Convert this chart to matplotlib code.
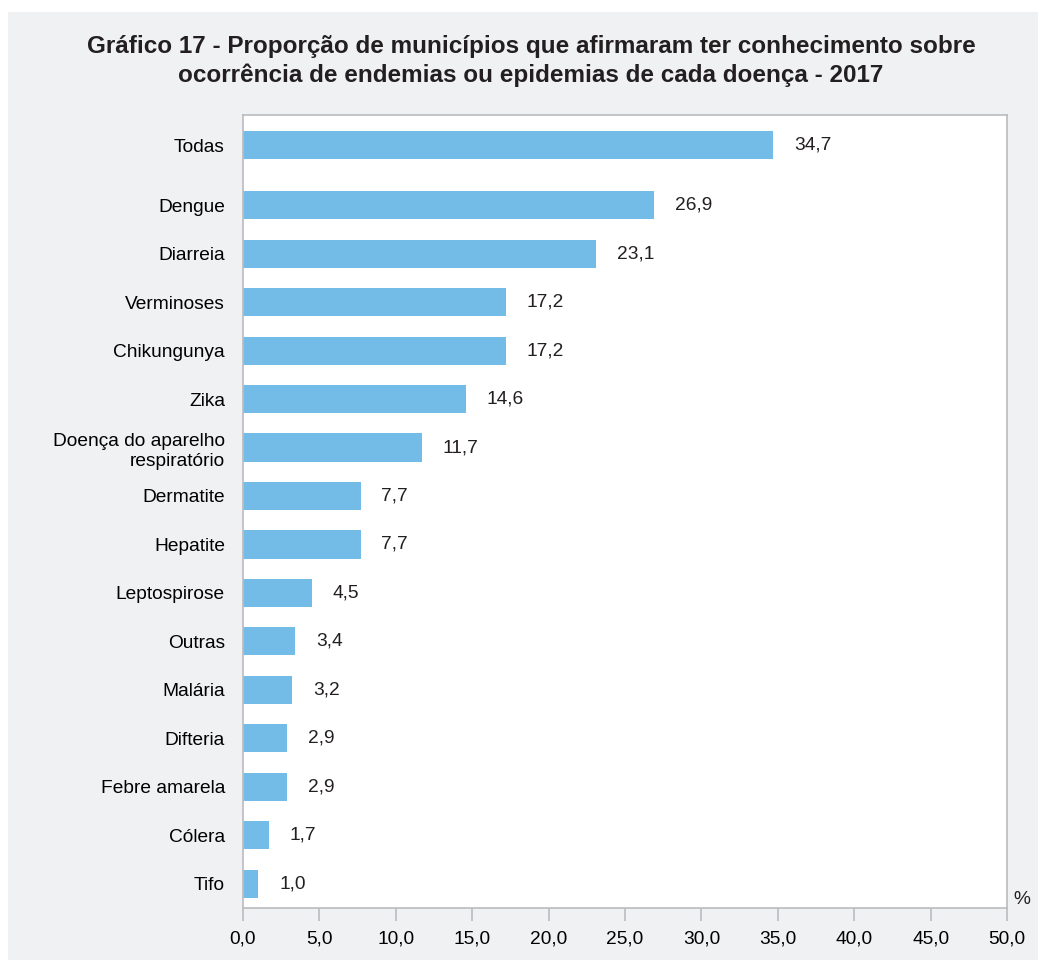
import matplotlib.pyplot as plt
import matplotlib as mplt
from matplotlib.patches import Rectangle

# data
categorias = ['Todas', 'Dengue', 'Diarreia', 'Verminoses', 'Chikungunya', 'Zika',
              'Doença do aparelho\nrespiratório', 'Dermatite', 'Hepatite',
              'Leptospirose', 'Outras', 'Malária', 'Difteria', 'Febre amarela',
              'Cólera', 'Tifo']
valores = [34.7, 26.9, 23.1, 17.2, 17.2, 14.6, 11.7, 7.7, 7.7, 4.5, 3.4, 3.2,
           2.9, 2.9, 1.7, 1.0]
xticks = [0, 5, 10, 15, 20, 25, 30, 35, 40, 45, 50]

titulo = ('Gráfico 17 - Proporção de municípios que afirmaram ter conhecimento sobre\n'
          'ocorrência de endemias ou epidemias de cada doença - 2017')

mplt.rcParams['font.family'] = ['Liberation Sans', 'DejaVu Sans']
mplt.rcParams['text.color'] = '#231f20'

azul = '#74bce8'
cinza_fundo = '#f0f1f3'
cinza_linha = '#b9bcc0'
fs = 13.8

fig = plt.figure(figsize=(10.38, 9.6), dpi=100, facecolor='white')
# gray panel behind everything
fig.patches.append(Rectangle((8 / 1038, 0), 1, 1 - 12 / 960, transform=fig.transFigure,
                             facecolor=cinza_fundo, edgecolor='none', zorder=-10))

ax = fig.add_axes([243 / 1038, 1 - 908 / 960, (1007 - 243) / 1038, (908 - 115) / 960])
ax.set_facecolor('white')

# positions: Todas is set apart from the rest
n = len(categorias)
ypos = [n - 1 - i for i in range(n)]
ypos[0] = (n - 2) + 1.24

ax.barh(ypos, valores, height=0.58, color=azul, edgecolor='none')

for y, v in zip(ypos, valores):
    ax.annotate(f'{v:.1f}'.replace('.', ','), (v, y), xytext=(15, 0),
                textcoords='offset points', va='center', ha='left', fontsize=fs)

ax.set_xlim(0, 50)
ax.set_ylim(-0.5, ypos[0] + 0.62)
ax.set_xticks(xticks)
ax.set_xticklabels([f'{t:.1f}'.replace('.', ',') for t in xticks], fontsize=fs)
ax.set_yticks(ypos)
ax.set_yticklabels(categorias, fontsize=fs, linespacing=1.3)
ax.tick_params(axis='y', length=0, pad=13)
ax.tick_params(axis='x', length=9, width=1.2, color=cinza_linha, pad=7, direction='out')

for s in ax.spines.values():
    s.set_color(cinza_linha)
    s.set_linewidth(1.2)

ax.text(1.008, 0.0, '%', transform=ax.transAxes, ha='left', va='bottom', fontsize=fs)

fig.text(531 / 1038, 1 - 61 / 960, titulo, ha='center', va='center', fontsize=17.5,
         fontweight='bold', linespacing=1.25)

fig.savefig('out.png', dpi=100, facecolor=fig.get_facecolor())
